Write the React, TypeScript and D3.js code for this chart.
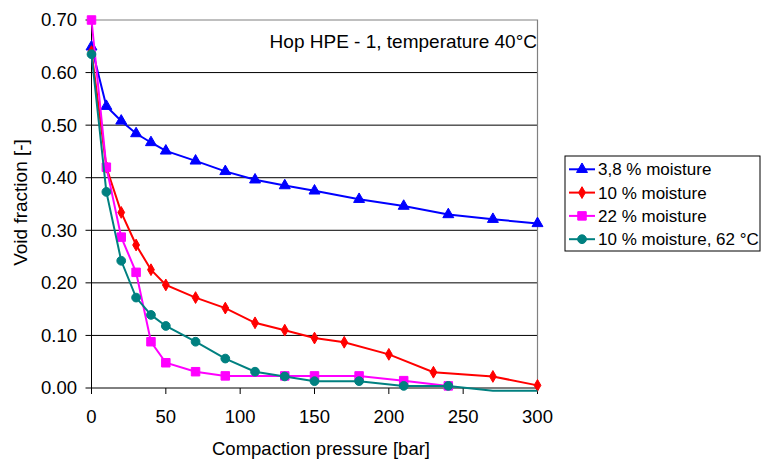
import * as d3 from "d3";

const WIDTH = 761;
const HEIGHT = 459;
const PLOT = { left: 91.5, right: 537.5, top: 20, bottom: 388 };
const FONT = "'Liberation Sans', Arial, sans-serif";

// series data
const pressureA = [0, 10, 20, 30, 40, 50, 70, 90, 110, 130, 150, 180, 210, 240, 270, 300];
const voidA = [0.649, 0.536, 0.508, 0.484, 0.467, 0.451, 0.432, 0.412, 0.396, 0.385, 0.375, 0.359, 0.346, 0.33, 0.321, 0.313];

const pressureB = [0, 10, 20, 30, 40, 50, 70, 90, 110, 130, 150, 170, 200, 230, 270, 300];
const voidB = [0.64, 0.42, 0.334, 0.272, 0.225, 0.196, 0.172, 0.152, 0.124, 0.11, 0.095, 0.087, 0.064, 0.03, 0.022, 0.005];

const pressureC = [0, 10, 20, 30, 40, 50, 70, 90, 130, 150, 180, 210, 240];
const voidC = [0.7, 0.42, 0.287, 0.22, 0.088, 0.048, 0.031, 0.023, 0.023, 0.023, 0.023, 0.014, 0.004];

const pressureD = [0, 10, 20, 30, 40, 50, 70, 90, 110, 130, 150, 180, 210, 240, 270, 300];
const voidD = [0.635, 0.373, 0.242, 0.172, 0.139, 0.118, 0.088, 0.056, 0.031, 0.022, 0.013, 0.013, 0.004, 0.004, -0.005, -0.005];

const seriesNames = ["3,8 % moisture", "10 % moisture", "22 % moisture", "10 % moisture, 62 °C"];
const seriesColors = ["#0000ff", "#ff0000", "#ff00ff", "#008080"];
const seriesMarkers = ["triangle", "diamond", "square", "circle"];

const xTicks = [0, 50, 100, 150, 200, 250, 300];
const yTicks = [0, 0.1, 0.2, 0.3, 0.4, 0.5, 0.6, 0.7];

const series = [
  { x: pressureA, y: voidA },
  { x: pressureB, y: voidB },
  { x: pressureC, y: voidC },
  { x: pressureD, y: voidD },
].map((s, i) => ({
  name: seriesNames[i],
  color: seriesColors[i],
  marker: seriesMarkers[i],
  points: s.x.map((x, j) => ({ x, y: s.y[j] })),
}));

const symbolFor = (m: string) => {
  if (m === "triangle") return d3.symbol(d3.symbolTriangle, 52)();
  if (m === "diamond") return d3.symbol(d3.symbolDiamond, 40)();
  if (m === "square") return d3.symbol(d3.symbolSquare, 72)();
  return d3.symbol(d3.symbolCircle, 60)();
};

export default function App() {
  const xScale = d3.scaleLinear().domain([0, 300]).range([PLOT.left, PLOT.right]);
  const yScale = d3.scaleLinear().domain([0, 0.7]).range([PLOT.bottom, PLOT.top]);

  const line = d3
    .line<{ x: number; y: number }>()
    .x((d) => xScale(d.x))
    .y((d) => yScale(d.y));

  // legend position
  const legend = { x: 565, y: 156, w: 195, h: 95, row: 23.3 };

  return (
    <svg
      width={WIDTH}
      height={HEIGHT}
      style={{ position: "absolute", left: 0, top: 0, background: "#fff" }}
      fontFamily={FONT}
    >
      {/* gridlines */}
      {yTicks.slice(1, -1).map((t) => (
        <line key={t} x1={PLOT.left} x2={PLOT.right} y1={yScale(t)} y2={yScale(t)} stroke="#000" strokeWidth={1} />
      ))}
      {/* plot border top & right */}
      <path
        d={`M${PLOT.left},${PLOT.top}H${PLOT.right}V${PLOT.bottom}`}
        fill="none"
        stroke="#808080"
        strokeWidth={1.2}
      />

      {/* axes */}
      <line x1={PLOT.left} x2={PLOT.left} y1={PLOT.top} y2={PLOT.bottom} stroke="#000" />
      <line x1={PLOT.left} x2={PLOT.right} y1={PLOT.bottom} y2={PLOT.bottom} stroke="#000" />

      {yTicks.map((t) => (
        <g key={t}>
          <line x1={PLOT.left - 6} x2={PLOT.left} y1={yScale(t)} y2={yScale(t)} stroke="#000" />
          <text x={77} y={yScale(t)} dy="0.35em" textAnchor="end" fontSize={18.5} fill="#000">
            {t.toFixed(2)}
          </text>
        </g>
      ))}
      {xTicks.map((t) => (
        <g key={t}>
          <line x1={xScale(t)} x2={xScale(t)} y1={PLOT.bottom} y2={PLOT.bottom + 6} stroke="#000" />
          <text x={xScale(t)} y={423} textAnchor="middle" fontSize={18.5} fill="#000">
            {t}
          </text>
        </g>
      ))}

      <text x={321} y={455} textAnchor="middle" fontSize={18.5} fill="#000">
        Compaction pressure [bar]
      </text>
      <text
        transform={`translate(27,202.5) rotate(-90)`}
        textAnchor="middle"
        fontSize={19}
        fill="#000"
      >
        Void fraction [-]
      </text>

      <text x={537} y={48} textAnchor="end" fontSize={19} fill="#000">
        Hop HPE - 1, temperature 40°C
      </text>

      {/* series */}
      {series.map((s) => (
        <g key={s.name}>
          <path d={line(s.points) || ""} fill="none" stroke={s.color} strokeWidth={2} />
          {s.points
            .filter((p) => p.y >= 0)
            .map((p, j) => (
              <path
                key={j}
                d={symbolFor(s.marker) || ""}
                transform={`translate(${xScale(p.x)},${yScale(p.y)})`}
                fill={s.color}
                stroke={s.color}
                strokeWidth={1}
              />
            ))}
        </g>
      ))}

      {/* legend */}
      <rect x={legend.x} y={legend.y} width={legend.w} height={legend.h} fill="#fff" stroke="#000" strokeWidth={1} />
      {series.map((s, i) => {
        const cy = legend.y + 13.3 + i * legend.row;
        return (
          <g key={s.name}>
            <line x1={569} x2={595} y1={cy} y2={cy} stroke={s.color} strokeWidth={2} />
            <path
              d={symbolFor(s.marker) || ""}
              transform={`translate(582,${cy})`}
              fill={s.color}
              stroke={s.color}
              strokeWidth={1}
            />
            <text x={598} y={cy} dy="0.35em" fontSize={17} fill="#000">
              {s.name}
            </text>
          </g>
        );
      })}
    </svg>
  );
}
